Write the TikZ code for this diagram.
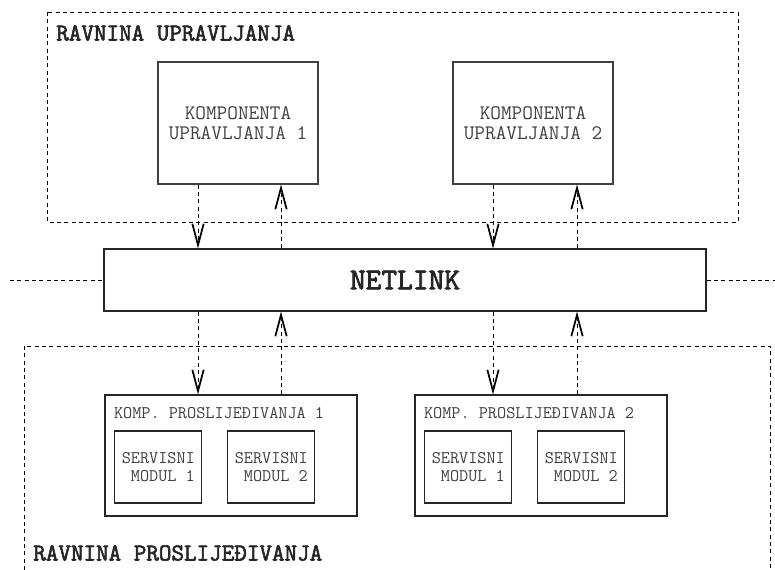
\documentclass[tikz,border=0pt]{standalone}
\usepackage{fontspec}
\newfontfamily\heavytt{Latin Modern Mono}[FakeBold=2.5]
\usetikzlibrary{arrows.meta}
\begin{document}
\begin{tikzpicture}[x=0.75pt,y=-0.75pt,
    plane/.style={line width=0.6pt, dash pattern=on 3pt off 2.5pt},
    comp/.style={draw=black!75, line width=0.8pt, minimum width=120pt, minimum height=91.5pt,
      align=center, text=black!75, font=\ttfamily\fontsize{15.5}{15}\selectfont},
    fwd/.style={draw=black!85, line width=0.8pt, minimum width=189pt, minimum height=90.75pt},
    modul/.style={draw=black!85, line width=0.8pt, minimum width=65.25pt, minimum height=54pt,
      align=right, text=black!75, font=\ttfamily\fontsize{13.3}{13.5}\selectfont},
    title/.style={anchor=west, inner sep=0pt, text=black!85, font=\heavytt\fontsize{18.3}{20}\selectfont},
    link/.style={line width=0.6pt, dash pattern=on 3pt off 2.5pt,
      -{Straight Barb[length=16pt,width=8.5pt,line width=1.3pt]}}]
  \useasboundingbox (0,0) rectangle (775,570);
  % planes
  \draw[plane] (47,12) rectangle (738,222);
  \draw[plane] (24,570) -- (24,346) -- (770,346) -- (770,570);
  \node[title] (ctl) at (56,33) {RAVNINA UPRAVLJANJA};
  \node[title] (fwdpl) at (33,553) {RAVNINA PROSLIJEĐIVANJA};
  % control components
  \node[comp] (k1) at (238,123) {KOMPONENTA\\UPRAVLJANJA 1};
  \node[comp] (k2) at (533,123) {KOMPONENTA\\UPRAVLJANJA 2};
  % netlink
  \node[draw=black!85, line width=0.8pt, minimum width=451.5pt, minimum height=46.5pt,
    font=\heavytt\fontsize{22.9}{24}\selectfont, text=black!85] (net) at (405,280) {NETLINK};
  \coordinate (lft) at (10,280);
  \coordinate (rgt) at (775,280);
  \draw[plane] (lft) -- (net.west);
  \draw[plane] (net.east) -- (rgt);
  % forwarding components
  \foreach \i/\x in {1/231,2/541} {
    \node[fwd] (f\i) at (\x,455.5) {};
    \node[anchor=west, inner sep=0pt, text=black!75, font=\ttfamily\fontsize{13.3}{13.5}\selectfont]
      (fl\i) at ([xshift=7pt]f\i.west |- 0,413) {KOMP. PROSLIJEĐIVANJA \i};
    \node[modul] (m\i1) at ([xshift=-54.5pt]\x,467) {SERVISNI\\MODUL 1};
    \node[modul] (m\i2) at ([xshift=30.25pt]\x,467) {SERVISNI\\MODUL 2};
  }
  % arrows
  \foreach \i/\d/\u in {1/198/281,2/493/577} {
    \coordinate (d\i) at (\d,0);
    \coordinate (u\i) at (\u,0);
    \draw[link] (k\i.south -| d\i) -- (net.north -| d\i);
    \draw[link] (net.north -| u\i) -- (k\i.south -| u\i);
    \draw[link] (net.south -| d\i) -- (f\i.north -| d\i);
    \draw[link] (f\i.north -| u\i) -- (net.south -| u\i);
  }
\end{tikzpicture}
\end{document}
